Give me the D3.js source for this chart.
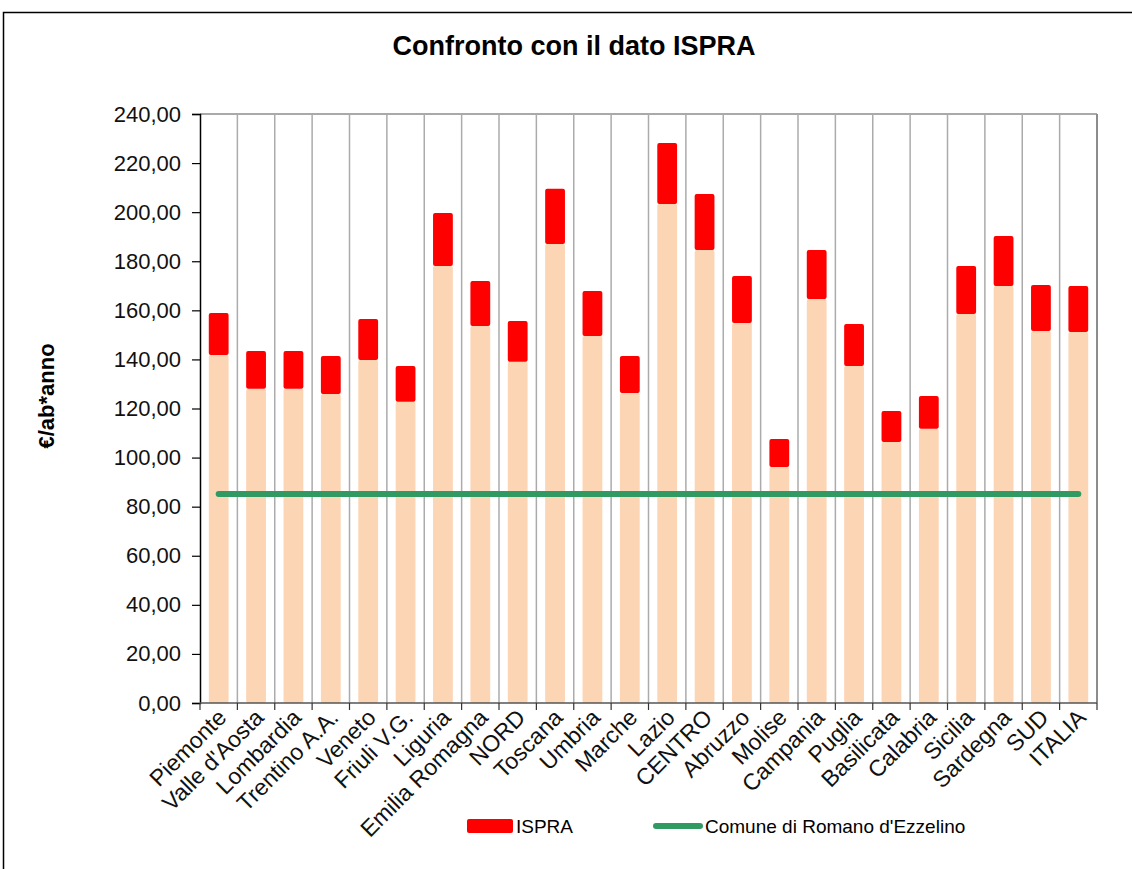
<!DOCTYPE html>
<html>
<head>
<meta charset="utf-8">
<script src="https://cdn.jsdelivr.net/npm/d3@7"></script>
<style>
  body { margin: 0; background: #fff; }
  text { font-family: "Liberation Sans", Arial, sans-serif; }
</style>
</head>
<body>
<script>
var categories = ["Piemonte", "Valle d'Aosta", "Lombardia", "Trentino A.A.", "Veneto", "Friuli V.G.",
  "Liguria", "Emilia Romagna", "NORD", "Toscana", "Umbria", "Marche", "Lazio", "CENTRO",
  "Abruzzo", "Molise", "Campania", "Puglia", "Basilicata", "Calabria", "Sicilia", "Sardegna",
  "SUD", "ITALIA"];
// peach part of the bar
var baseValues = [141.8, 128.0, 128.0, 125.9, 139.8, 122.7, 178.1, 153.6, 139.0, 187.0, 149.5, 126.3,
  203.3, 184.6, 154.8, 96.2, 164.6, 137.3, 106.4, 111.7, 158.5, 169.9, 151.6, 151.2];
// red part stacked on top (ISPRA)
var ispraValues = [17.1, 15.4, 15.4, 15.5, 16.7, 14.6, 21.6, 18.4, 16.7, 22.5, 18.4, 15.1,
  24.9, 22.8, 19.2, 11.4, 20.0, 17.1, 12.6, 13.4, 19.6, 20.4, 18.7, 18.7];
var comuneValue = 85.2;
var yTicks = [0, 20, 40, 60, 80, 100, 120, 140, 160, 180, 200, 220, 240];

var width = 1132, height = 869;
var plotLeft = 200, plotRight = 1097, plotTop = 114, plotBottom = 703;

var svg = d3.select("body").append("svg")
    .attr("width", width)
    .attr("height", height);

// outer frame
svg.append("rect")
    .attr("x", 3.5).attr("y", 12.5)
    .attr("width", 1200).attr("height", 1000)
    .attr("fill", "none").attr("stroke", "#000").attr("stroke-width", 1.5);

svg.append("text")
    .attr("x", 574).attr("y", 55)
    .attr("text-anchor", "middle")
    .attr("font-size", 27).attr("font-weight", "bold")
    .text("Confronto con il dato ISPRA");

var x = d3.scaleBand().domain(categories).range([plotLeft, plotRight]).paddingInner(0).paddingOuter(0);
var y = d3.scaleLinear().domain([0, 240]).range([plotBottom, plotTop]);

// plot area border top / right
svg.append("line").attr("x1", plotLeft).attr("x2", plotRight).attr("y1", plotTop).attr("y2", plotTop)
    .attr("stroke", "#8c8c8c").attr("stroke-width", 1.5);
svg.append("line").attr("x1", plotRight).attr("x2", plotRight).attr("y1", plotTop).attr("y2", plotBottom)
    .attr("stroke", "#8c8c8c").attr("stroke-width", 2);

// vertical gridlines at category boundaries
svg.append("g").selectAll("line")
    .data(categories.slice(1))
    .join("line")
    .attr("x1", function(d) { return x(d); })
    .attr("x2", function(d) { return x(d); })
    .attr("y1", plotTop).attr("y2", plotBottom)
    .attr("stroke", "#ababab").attr("stroke-width", 1.5);

// stacked bars
var rows = categories.map(function(c, i) {
  return { cat: c, base: baseValues[i], ispra: ispraValues[i] };
});
var stack = d3.stack().keys(["base", "ispra"])(rows);
var colors = { base: "#fcd5b5", ispra: "#ff0000" };
var barW = x.bandwidth() * 0.53;

svg.append("g").selectAll("g")
    .data(stack)
    .join("g")
    .attr("fill", function(s) { return colors[s.key]; })
    .selectAll("rect")
    .data(function(s) { return s; })
    .join("rect")
    .attr("x", function(d) { return x(d.data.cat) + (x.bandwidth() - barW) / 2; })
    .attr("width", barW)
    .attr("y", function(d) { return y(d[1]); })
    .attr("height", function(d) { return y(d[0]) - y(d[1]); })
    .attr("rx", 2);

// comune line
var line = d3.line()
    .x(function(d) { return x(d) + x.bandwidth() / 2; })
    .y(function() { return y(comuneValue); });
svg.append("path")
    .attr("d", line([categories[0], categories[categories.length - 1]]))
    .attr("fill", "none").attr("stroke", "#319a63")
    .attr("stroke-width", 6).attr("stroke-linecap", "round");

// y axis
var yAxis = svg.append("g")
    .attr("transform", "translate(" + plotLeft + ",0)")
    .call(d3.axisLeft(y).tickValues(yTicks).tickSize(8).tickPadding(11)
      .tickFormat(function(d) { return d3.format(".2f")(d).replace(".", ","); }));
yAxis.select(".domain").attr("stroke", "#000").attr("stroke-width", 1.5);
yAxis.selectAll(".tick line").attr("stroke", "#000").attr("stroke-width", 1.2);
yAxis.selectAll("text").attr("font-size", 22).attr("fill", "#111")
    .attr("font-family", "'Liberation Sans', Arial, sans-serif");

// x axis: ticks at boundaries
var xa = svg.append("g");
xa.append("line").attr("x1", plotLeft).attr("x2", plotRight).attr("y1", plotBottom).attr("y2", plotBottom)
    .attr("stroke", "#555").attr("stroke-width", 1.5);
xa.selectAll("line.tk")
    .data(categories.concat(["end"]))
    .join("line")
    .attr("class", "tk")
    .attr("x1", function(d, i) { return plotLeft + i * x.step(); })
    .attr("x2", function(d, i) { return plotLeft + i * x.step(); })
    .attr("y1", plotBottom).attr("y2", plotBottom + 7)
    .attr("stroke", "#333").attr("stroke-width", 1.2);
xa.selectAll("text")
    .data(categories)
    .join("text")
    .attr("transform", function(d) {
      return "translate(" + (x(d) + x.bandwidth() / 2 + 9) + "," + (plotBottom + 16) + ") rotate(-45)";
    })
    .attr("text-anchor", "end")
    .attr("font-size", 23)
    .attr("fill", "#111")
    .text(function(d) { return d; });

// y title
svg.append("text")
    .attr("transform", "translate(54,396) rotate(-90)")
    .attr("text-anchor", "middle")
    .attr("font-size", 22).attr("font-weight", "bold")
    .text("€/ab*anno");

// legend
svg.append("rect")
    .attr("x", 467).attr("y", 819).attr("width", 46).attr("height", 14)
    .attr("rx", 2).attr("fill", "#ff0000");
svg.append("text")
    .attr("x", 516).attr("y", 833).attr("font-size", 19)
    .text("ISPRA");
svg.append("line")
    .attr("x1", 656).attr("x2", 700).attr("y1", 826).attr("y2", 826)
    .attr("stroke", "#319a63").attr("stroke-width", 6).attr("stroke-linecap", "round");
svg.append("text")
    .attr("x", 705).attr("y", 833).attr("font-size", 19)
    .text("Comune di Romano d'Ezzelino");
</script>
</body>
</html>
